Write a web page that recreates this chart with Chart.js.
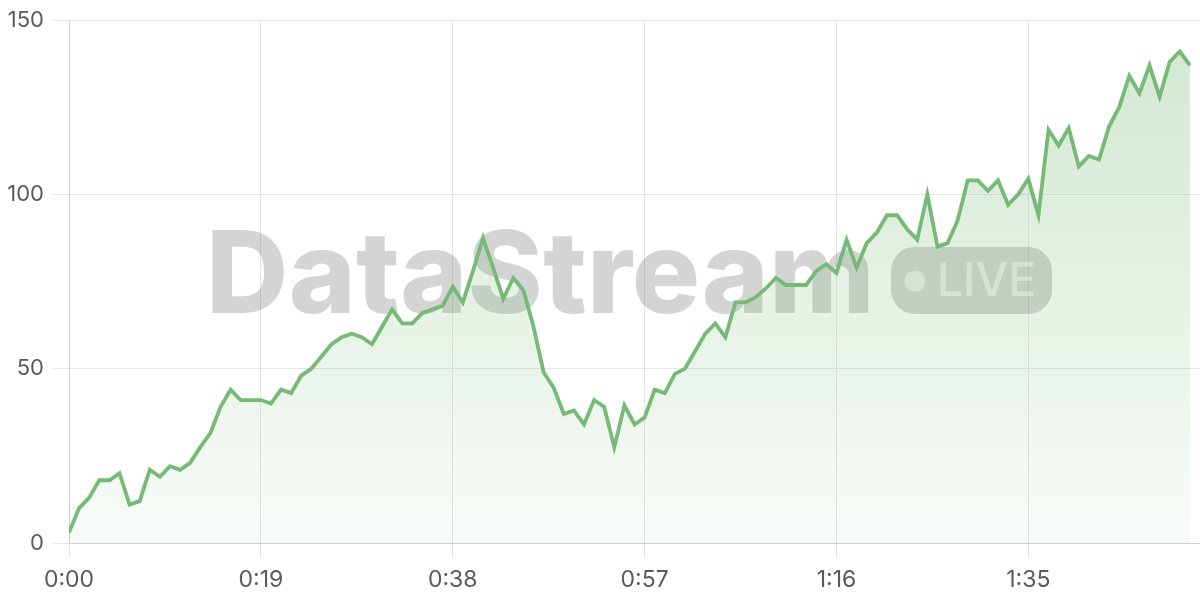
<!DOCTYPE html>
<html>
<head>
<meta charset="utf-8">
<script src="https://cdn.jsdelivr.net/npm/chart.js@4.4.1/dist/chart.umd.min.js"></script>
<style>
html,body{margin:0;padding:0;background:#ffffff;}
#wrap{width:1200px;height:600px;position:relative;}
</style>
</head>
<body>
<div id="wrap"><canvas id="c" width="1200" height="600"></canvas></div>
<script>
// One sample per second, 0:00 .. 1:51
const values = [
  3, 10, 13, 18, 18, 20, 11, 12, 21, 19,
  22, 21, 23, 27.5, 31.5, 39, 44, 41, 41, 41,
  40, 44, 43, 48, 50, 53.5, 57, 59, 60, 59,
  57, 62, 67, 63, 63, 66, 67, 68, 73.5, 69,
  78, 87.5, 79, 70, 76, 72.5, 62, 49, 44.5, 37,
  38, 34, 41, 39, 27.5, 39.5, 34, 36, 44, 43,
  48.5, 50, 55, 60, 63, 59, 69, 69, 70.5, 73,
  76, 74, 74, 74, 78, 80, 77.5, 87, 79, 86,
  89, 94, 94, 90, 87, 100, 85, 86, 92.5, 104,
  104, 101, 104, 97, 100, 104.5, 94, 118.5, 114, 119,
  108, 111, 110, 119.5, 125, 134, 129, 137, 128, 138,
  141, 137
];
const seconds = values.map((_, i) => i);
const xMax = 112;
const xTickStep = 19;
const yTicks = [0, 50, 100, 150];
const watermarkText = "DataStream";
const badgeText = "LIVE";

const FONT = 'Inter, "Noto Sans", sans-serif';
const fmt = s => Math.floor(s / 60) + ":" + String(Math.round(s) % 60).padStart(2, "0");

const watermark = {
  id: "watermark",
  beforeDatasetsDraw(chart) {
    const ctx = chart.ctx;
    ctx.save();
    ctx.fillStyle = "rgba(0,0,0,0.17)";
    ctx.font = "800 114px " + FONT;
    ctx.textAlign = "left";
    ctx.textBaseline = "alphabetic";
    const targetLeft = 212, targetRight = 869;
    ctx.letterSpacing = "0px";
    let m = ctx.measureText(watermarkText);
    const w = m.actualBoundingBoxLeft + m.actualBoundingBoxRight;
    const ls = (targetRight - targetLeft - w) / (watermarkText.length - 1);
    ctx.letterSpacing = ls.toFixed(2) + "px";
    m = ctx.measureText(watermarkText);
    ctx.fillText(watermarkText, targetLeft + m.actualBoundingBoxLeft, 313);
    ctx.letterSpacing = "0px";
    // badge
    ctx.beginPath();
    ctx.roundRect(891, 247, 161, 67, 24);
    ctx.fill();
    ctx.fillStyle = "rgba(255,255,255,0.55)";
    ctx.beginPath();
    ctx.arc(915, 281, 10.5, 0, Math.PI * 2);
    ctx.fill();
    ctx.font = "500 46px " + FONT;
    const mb = ctx.measureText(badgeText);
    ctx.fillText(badgeText, 940 + mb.actualBoundingBoxLeft, 296);
    ctx.restore();
  }
};

new Chart(document.getElementById("c"), {
  type: "line",
  data: {
    datasets: [{
      data: seconds.map((s, i) => ({ x: s, y: values[i] })),
      borderColor: "#77b977",
      borderWidth: 3.8,
      pointRadius: 0,
      tension: 0,
      fill: "origin",
      backgroundColor: (c) => {
        const { ctx, chartArea } = c.chart;
        if (!chartArea) return "rgba(119,185,119,0.15)";
        const g = ctx.createLinearGradient(0, chartArea.top, 0, chartArea.bottom);
        g.addColorStop(0, "rgba(119,185,119,0.34)");
        g.addColorStop(1, "rgba(119,185,119,0.05)");
        return g;
      }
    }]
  },
  options: {
    responsive: false,
    animation: false,
    layout: { padding: { top: 0, right: 0, left: 0, bottom: 0 } },
    plugins: { legend: { display: false }, tooltip: { enabled: false } },
    scales: {
      x: {
        type: "linear",
        min: 0,
        max: xMax,
        afterFit(s) { s.height = 57; },
        ticks: {
          stepSize: xTickStep,
          includeBounds: false,
          autoSkip: false,
          maxRotation: 0,
          padding: 8,
          color: "#5a5a5a",
          font: { size: 23, family: FONT },
          callback: v => fmt(v)
        },
        grid: { color: "#e6e6e6", tickLength: 15 },
        border: { color: "#cfcfcf" }
      },
      y: {
        min: yTicks[0],
        max: yTicks[yTicks.length - 1],
        afterFit(s) { s.width = 69; },
        ticks: {
          stepSize: 50,
          padding: 9,
          color: "#5a5a5a",
          font: { size: 22, family: FONT, lineHeight: 1.0 }
        },
        grid: { color: "#e6e6e6", tickLength: 16 },
        border: { color: "#cfcfcf" }
      }
    }
  },
  plugins: [watermark]
});
</script>
</body>
</html>
